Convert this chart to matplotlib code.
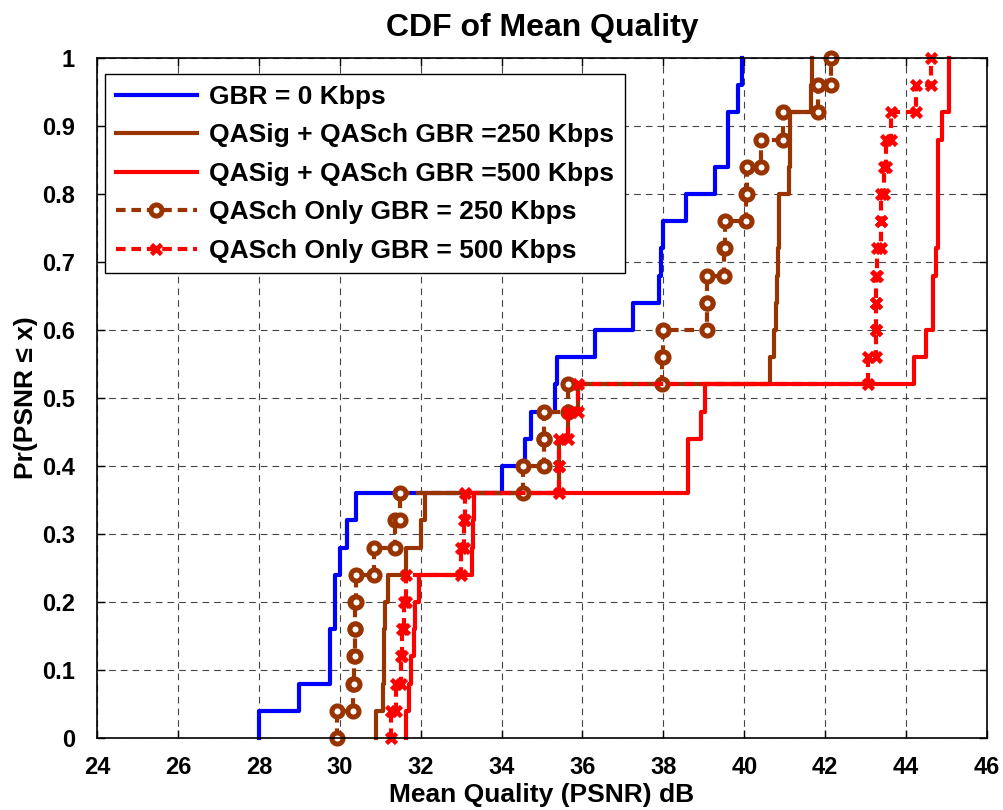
import matplotlib
matplotlib.use("Agg")
import matplotlib.pyplot as plt
import numpy as np

plt.rcParams["font.family"] = ["Liberation Sans", "DejaVu Sans"]
plt.rcParams["font.weight"] = "bold"

# Mean PSNR (dB) per user, 25 users per scheme
psnr_gbr0 = [28.00, 29.00, 29.77, 29.77, 29.88, 29.88, 30.00, 30.17, 30.40,
             34.00, 34.57, 34.73, 35.33, 35.37, 36.30, 37.24, 37.88, 37.95,
             37.99, 38.57, 39.28, 39.59, 39.59, 39.85, 39.95]
psnr_qasig_250 = [30.89, 31.07, 31.10, 31.10, 31.12, 31.19, 31.64, 32.00, 32.12,
                  35.42, 35.43, 35.64, 35.88, 40.63, 40.74, 40.78, 40.82, 40.83,
                  40.86, 40.87, 41.11, 41.12, 41.13, 41.65, 41.68]
psnr_qasig_500 = [31.65, 31.72, 31.76, 31.84, 31.85, 31.96, 33.28, 33.29, 33.33,
                  38.62, 38.62, 38.93, 39.04, 44.20, 44.49, 44.67, 44.67, 44.73,
                  44.79, 44.79, 44.79, 44.79, 44.88, 45.06, 45.06]
psnr_qasch_250 = [29.93, 30.33, 30.35, 30.38, 30.38, 30.40, 30.84, 31.36, 31.48,
                  34.53, 35.04, 35.04, 35.64, 37.97, 38.00, 39.07, 39.08, 39.50,
                  39.52, 40.04, 40.06, 40.41, 40.95, 41.82, 42.14]
psnr_qasch_500 = [31.26, 31.38, 31.52, 31.55, 31.60, 31.63, 33.00, 33.08, 33.10,
                  35.42, 35.43, 35.64, 35.88, 43.07, 43.25, 43.25, 43.25, 43.29,
                  43.37, 43.39, 43.46, 43.50, 43.62, 44.24, 44.61]

labels = ["GBR = 0 Kbps",
          "QASig + QASch GBR =250 Kbps",
          "QASig + QASch GBR =500 Kbps",
          "QASch Only GBR = 250 Kbps",
          "QASch Only GBR = 500 Kbps"]

x_ticks = np.arange(24, 47, 2)
y_ticks = np.round(np.arange(0, 1.01, 0.1), 1)
y_tick_labels = ["0"] + [f"{v:.1f}" for v in y_ticks[1:-1]] + ["1"]

BLUE = "#0000FF"
BROWN = "#993300"
RED = "#FF0000"


def ecdf_stairs(samples):
    # every corner of the empirical CDF staircase: (s1,0),(s1,F1),(s2,F1),...
    s = np.sort(np.asarray(samples, dtype=float))
    n = len(s)
    levels = np.arange(n + 1) / n
    y = np.empty(2 * n)
    y[0::2] = levels[:-1]
    y[1::2] = levels[1:]
    return np.repeat(s, 2), y


fig = plt.figure(figsize=(10.04, 8.1), dpi=100)
ax = fig.add_axes([0.0966, 0.0889, 0.8865, 0.8395])

lw = 3
dash = (0, (2.3, 1.4))
x, y = ecdf_stairs(psnr_gbr0)
ax.plot(x, y, color=BLUE, lw=lw, label=labels[0], clip_on=False)
x, y = ecdf_stairs(psnr_qasig_250)
ax.plot(x, y, color=BROWN, lw=lw, label=labels[1], clip_on=False)
x, y = ecdf_stairs(psnr_qasig_500)
ax.plot(x, y, color=RED, lw=lw, label=labels[2], clip_on=False)
x, y = ecdf_stairs(psnr_qasch_250)
ax.plot(x, y, color=BROWN, lw=lw, ls=dash, marker="o", ms=8,
        mew=3.6, mfc="white", mec=BROWN, label=labels[3], clip_on=False)
x, y = ecdf_stairs(psnr_qasch_500)
ax.plot(x, y, color=RED, lw=lw, ls=dash, marker="x", ms=7,
        mew=3.3, mec=RED, label=labels[4], clip_on=False)

ax.set_xlim(24, 46)
ax.set_ylim(0, 1)
ax.set_xticks(x_ticks)
ax.set_xticklabels([str(v) for v in x_ticks])
ax.set_yticks(y_ticks)
ax.set_yticklabels(y_tick_labels)
ax.grid(True, color="#444444", linestyle=(0, (6, 4.5)), linewidth=0.8)
ax.set_axisbelow(True)
ax.tick_params(direction="in", length=6, width=1, top=True, right=True,
               labelsize=17)
ax.tick_params(axis="x", pad=13)
ax.tick_params(axis="y", pad=16)
for sp in ax.spines.values():
    sp.set_linewidth(1.2)

ax.set_title("CDF of Mean Quality", fontsize=23, fontweight="bold",
             family=["Liberation Sans Narrow", "Liberation Sans"], pad=16)
ax.set_xlabel("Mean Quality (PSNR) dB", fontsize=19, fontweight="bold", labelpad=3)
ax.set_ylabel("Pr(PSNR \u2264 x)", fontsize=19, fontweight="bold", labelpad=3)

leg = ax.legend(loc="upper left", bbox_to_anchor=(0.009, 0.976), borderaxespad=0,
                fancybox=False, framealpha=1, edgecolor="black", fontsize=19,
                handlelength=3.1, handletextpad=0.45, labelspacing=0.55,
                borderpad=0.4, numpoints=1)
leg.get_frame().set_linewidth(1.0)

fig.savefig("out.png", dpi=100)
